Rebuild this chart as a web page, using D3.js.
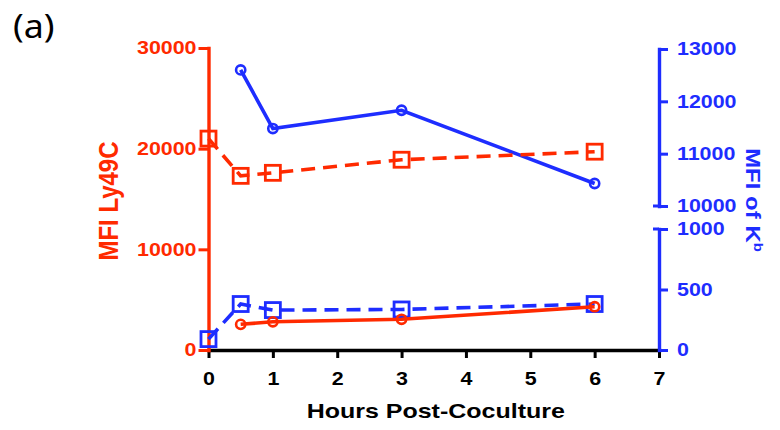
<!DOCTYPE html>
<html>
<head>
<meta charset="utf-8">
<script src="https://cdn.jsdelivr.net/npm/d3@7/dist/d3.min.js"></script>
<style>
  html, body { margin: 0; padding: 0; background: #fff; }
  svg { display: block; }
</style>
</head>
<body>
<svg id="chart" width="780" height="430"></svg>
<script>
// Time points (hours post-coculture)
const hours = [0, 0.5, 1, 3, 6];
const circleHours = [0.5, 1, 3, 6];

// Ly49C MFI (left axis)
const ly49cSquares = [21000, 17300, 17600, 18900, 19700];
const ly49cCircles = [2550, 2800, 3050, 4300];

// K^b MFI (right axis, split into a high and a low segment)
const kbCircles = [12600, 11480, 11830, 10430];
const kbSquares = [90, 380, 330, 335, 380];

// Tick values
const hourTicks = [0, 1, 2, 3, 4, 5, 6, 7];
const leftTicks = [0, 10000, 20000, 30000];
const rightTopTicks = [10000, 11000, 12000, 13000];
const rightBottomTicks = [0, 500, 1000];

const RED = "#ff2a00";
const BLUE = "#1e2dff";
const STRETCH = 1.19;
const FONT = "'Liberation Sans', Arial, sans-serif";

const svg = d3.select("#chart");

const x = d3.scaleLinear().domain([0, 7]).range([208.5, 659]);
const yLeft = d3.scaleLinear().domain([0, 30000]).range([350, 48]);
const yRightTop = d3.scaleLinear().domain([10000, 13000]).range([206, 49]);
const yRightBottom = d3.scaleLinear().domain([0, 1000]).range([350, 229]);

// Widen axis tick text horizontally
function stretchTicks(g) {
  g.selectAll(".tick text").each(function () {
    const t = d3.select(this);
    const x0 = +t.attr("x") || 0;
    t.attr("x", x0 / STRETCH)
     .attr("transform", `scale(${STRETCH},1)`);
  });
}

function styleAxis(g, color, fontSize) {
  g.select(".domain").attr("stroke", color).attr("stroke-width", 3.4).attr("stroke-linecap", "square");
  g.selectAll(".tick line").attr("stroke", color).attr("stroke-width", 3);
  g.selectAll(".tick text")
    .attr("fill", color)
    .attr("font-family", FONT)
    .attr("font-weight", "bold")
    .attr("font-size", fontSize);
}

// Bottom (hours) axis
const gx = svg.append("g")
  .attr("transform", "translate(0,350)")
  .call(d3.axisBottom(x).tickValues(hourTicks).tickFormat(d3.format("d"))
    .tickSize(8).tickSizeOuter(0).tickPadding(14));
styleAxis(gx, "#000", 18);
stretchTicks(gx);

// Left (Ly49C) axis
const gl = svg.append("g")
  .attr("transform", `translate(${x(0)},0)`)
  .call(d3.axisLeft(yLeft).tickValues(leftTicks).tickFormat(d3.format("d"))
    .tickSize(10).tickSizeOuter(0).tickPadding(2));
styleAxis(gl, RED, 18);
stretchTicks(gl);

// Right (K^b) axis — upper segment
const grt = svg.append("g")
  .attr("transform", `translate(${x(7)},0)`)
  .call(d3.axisRight(yRightTop).tickValues(rightTopTicks).tickFormat(d3.format("d"))
    .tickSize(9).tickSizeOuter(0).tickPadding(9));
styleAxis(grt, BLUE, 18);
stretchTicks(grt);

// Right (K^b) axis — lower segment
const grb = svg.append("g")
  .attr("transform", `translate(${x(7)},0)`)
  .call(d3.axisRight(yRightBottom).tickValues(rightBottomTicks).tickFormat(d3.format("d"))
    .tickSize(9).tickSizeOuter(0).tickPadding(9));
styleAxis(grb, BLUE, 18);
stretchTicks(grb);

// Caps at the axis break
[yRightTop(10000), yRightBottom(1000)].forEach(yy => {
  svg.append("line")
    .attr("x1", x(7) - 6).attr("x2", x(7))
    .attr("y1", yy).attr("y2", yy)
    .attr("stroke", BLUE).attr("stroke-width", 3);
});

// Series
function series(xs, ys, yScale, color, dashed, marker) {
  const pts = xs.map((h, i) => [x(h), yScale(ys[i])]);
  svg.append("path")
    .attr("d", d3.line()(pts))
    .attr("fill", "none")
    .attr("stroke", color)
    .attr("stroke-width", 3.6)
    .attr("stroke-dasharray", dashed ? "14,8" : null);
  const g = svg.append("g");
  pts.forEach(([px, py]) => {
    if (marker === "square") {
      g.append("rect")
        .attr("x", px - 7.5).attr("y", py - 7.5)
        .attr("width", 15).attr("height", 15)
        .attr("fill", "none").attr("stroke", color).attr("stroke-width", 2.8);
    } else {
      g.append("circle")
        .attr("cx", px).attr("cy", py).attr("r", 4.6)
        .attr("fill", "none").attr("stroke", color).attr("stroke-width", 2.6);
    }
  });
}

series(hours, kbSquares, yRightBottom, BLUE, true, "square");
series(circleHours, kbCircles, yRightTop, BLUE, false, "circle");
series(hours, ly49cSquares, yLeft, RED, true, "square");
series(circleHours, ly49cCircles, yLeft, RED, false, "circle");

// Axis titles
svg.append("g")
  .attr("transform", `translate(${(x(0) + x(7)) / 2 + 2},418) scale(${STRETCH},1)`)
  .append("text")
  .attr("text-anchor", "middle")
  .attr("font-family", FONT).attr("font-weight", "bold").attr("font-size", 21)
  .attr("fill", "#000")
  .text("Hours Post-Coculture");

svg.append("g")
  .attr("transform", `translate(118,201) rotate(-90) scale(1,${STRETCH})`)
  .append("text")
  .attr("text-anchor", "middle")
  .attr("font-family", FONT).attr("font-weight", "bold").attr("font-size", 24)
  .attr("fill", RED)
  .text("MFI Ly49C");

const rt = svg.append("g")
  .attr("transform", `translate(746,200) rotate(90) scale(1,0.88)`)
  .append("text")
  .attr("text-anchor", "middle")
  .attr("font-family", FONT).attr("font-weight", "bold").attr("font-size", 24)
  .attr("fill", BLUE);
rt.append("tspan").text("MFI of K");
rt.append("tspan").attr("font-size", 15).attr("dy", -9).text("b");

// Panel label
svg.append("g")
  .attr("transform", "translate(13,38) scale(1.12,1)")
  .append("text")
  .attr("font-family", "'Noto Sans', 'Open Sans', sans-serif")
  .attr("font-size", 32)
  .attr("fill", "#000")
  .text("(a)");
</script>
</body>
</html>
